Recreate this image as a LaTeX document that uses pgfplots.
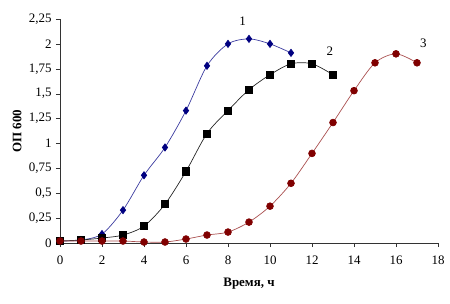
\documentclass[border=0pt]{standalone}
\usepackage{fontspec}
\setmainfont{Liberation Serif}
\usepackage{pgfplots}
\pgfplotsset{compat=1.18}
\definecolor{navyc}{RGB}{0,0,128}
\definecolor{navyl}{RGB}{60,60,160}
\definecolor{maroonc}{RGB}{128,0,0}
\definecolor{maroonl}{RGB}{170,80,80}
\begin{document}
\begin{tikzpicture}
\useasboundingbox (-60bp,-61bp) rectangle (390bp,243bp);
\begin{axis}[
  scale only axis,
  width=378bp, height=224bp,
  xmin=0, xmax=18, ymin=0, ymax=2.25,
  axis lines=left,
  axis line style={-, draw=black!80},
  tick align=outside,
  major tick length=4bp,
  tick style={black!80},
  xtick={0,2,...,18},
  ytick={0,0.25,0.5,0.75,1,1.25,1.5,1.75,2,2.25},
  yticklabels={0,{0,25},{0,5},{0,75},1,{1,25},{1,5},{1,75},2,{2,25}},
  xticklabels={0,2,4,6,8,10,12,14,16,18},
  ticklabel style={font=\fontsize{13}{13}\selectfont},
  xticklabel style={yshift=-5bp},
  yticklabel style={xshift=-1bp},
  /pgf/number format/assume math mode=true,
  xlabel={\textbf{Время, ч}},
  ylabel={\textbf{ОП 600}},
  label style={font=\fontsize{13}{13}\selectfont},
  xlabel style={at={(axis description cs:0.5,0)}, anchor=north, yshift=-31bp},
  ylabel style={at={(axis description cs:0,0.5)}, anchor=south, yshift=35bp},
  clip=false,
]
\addplot[navyl, line width=0.7pt, smooth, tension=0.5, mark=diamond*, mark size=3.6pt,
  mark options={fill=navyc, draw=navyc, solid}] coordinates {
 (0,0.02) (1,0.03) (2,0.09) (3,0.33) (4,0.68) (5,0.96) (6,1.33) (7,1.78)
 (8,2.00) (9,2.05) (10,2.00) (11,1.91)};
\addplot[black!85, line width=0.7pt, smooth, tension=0.5, mark=square*, mark size=3.6pt,
  mark options={fill=black, draw=black, solid}] coordinates {
 (0,0.02) (1,0.03) (2,0.05) (3,0.08) (4,0.17) (5,0.39) (6,0.72) (7,1.10)
 (8,1.33) (9,1.54) (10,1.69) (11,1.80) (12,1.80) (13,1.69)};
\addplot[maroonl, line width=0.7pt, smooth, tension=0.5, mark=*, mark size=3.4pt,
  mark options={fill=maroonc, draw=maroonc, solid}] coordinates {
 (0,0.02) (1,0.02) (2,0.02) (3,0.02) (4,0.01) (5,0.01) (6,0.04) (7,0.08)
 (8,0.11) (9,0.21) (10,0.37) (11,0.60) (12,0.90) (13,1.21) (14,1.53)
 (15,1.81) (16,1.90) (17,1.81)};
\node[font=\fontsize{13}{13}\selectfont] at (axis cs:8.7,2.23) {1};
\node[font=\fontsize{13}{13}\selectfont] at (axis cs:12.85,1.93) {2};
\node[font=\fontsize{13}{13}\selectfont] at (axis cs:17.3,2.01) {3};
\end{axis}
\end{tikzpicture}
\end{document}
